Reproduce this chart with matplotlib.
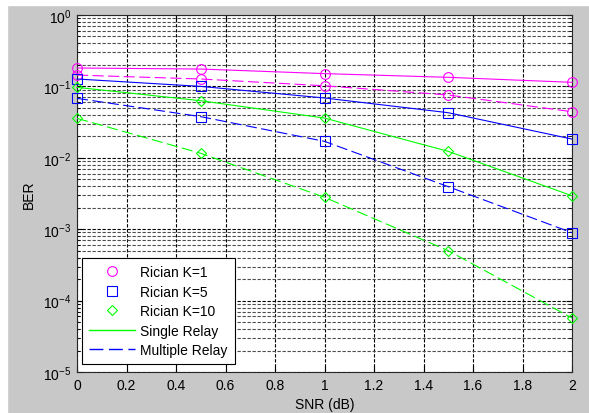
import matplotlib
matplotlib.use("Agg")
import matplotlib.pyplot as plt
from matplotlib.patches import Rectangle
from matplotlib.lines import Line2D

plt.rcParams['font.family'] = ['Liberation Sans', 'DejaVu Sans']
plt.rcParams['mathtext.fontset'] = 'custom'
plt.rcParams['mathtext.rm'] = 'Liberation Sans'
plt.rcParams['mathtext.it'] = 'Liberation Sans'

snr = [0, 0.5, 1, 1.5, 2]

# BER values
single_k1 = [0.181, 0.175, 0.151, 0.134, 0.114]
multi_k1 = [0.144, 0.127, 0.102, 0.0758, 0.0442]
single_k5 = [0.127, 0.100, 0.0688, 0.0428, 0.0183]
multi_k5 = [0.068, 0.0377, 0.0170, 0.00394, 0.000893]
single_k10 = [0.097, 0.063, 0.036, 0.0123, 0.00294]
multi_k10 = [0.0357, 0.01156, 0.0028, 0.0005, 5.7e-5]

legend_labels = ["Rician K=1", "Rician K=5", "Rician K=10", "Single Relay", "Multiple Relay"]

fig = plt.figure(figsize=(5.89, 4.14), dpi=100, facecolor='#c8c8c8')
# thin white strip on left and top edges
fig.patches.append(Rectangle((0, 0), 7 / 589, 1, transform=fig.transFigure, color='white', zorder=-1))
fig.patches.append(Rectangle((0, 1 - 6 / 414), 1, 6 / 414, transform=fig.transFigure, color='white', zorder=-1))

ax = fig.add_axes([77 / 589, 1 - 373 / 414, (572 - 77) / 589, (373 - 16) / 414])
ax.set_facecolor('white')

dash = (0, (10, 4))
ms = 7
series = [
    (single_k1, 'magenta', 'o', '-'),
    (multi_k1, 'magenta', 'o', dash),
    (single_k5, 'blue', 's', '-'),
    (multi_k5, 'blue', 's', dash),
    (single_k10, '#00ff00', 'D', '-'),
    (multi_k10, '#00ff00', 'D', dash),
]
for vals, c, m, ls in series:
    ax.semilogy(snr, vals, color=c, linestyle=ls, linewidth=0.8, marker=m,
                markersize=ms if m != 'D' else 5.5, markerfacecolor='none',
                markeredgecolor=c, markeredgewidth=0.8, clip_on=False, zorder=3)

ax.set_xlim(0, 2)
ax.set_ylim(1e-5, 1)
ax.set_xticks([0, 0.2, 0.4, 0.6, 0.8, 1, 1.2, 1.4, 1.6, 1.8, 2])
ax.set_xticklabels(['0', '0.2', '0.4', '0.6', '0.8', '1', '1.2', '1.4', '1.6', '1.8', '2'])

ax.grid(True, which='major', color='black', linestyle=(0, (3, 1.5)), linewidth=0.8)
ax.grid(True, which='minor', axis='y', color='0.3', linestyle=(0, (3, 1.5)), linewidth=0.8)
ax.set_axisbelow(True)

ax.tick_params(which='both', direction='in', top=True, right=True, labelsize=10, pad=4)
ax.tick_params(which='major', length=4)
ax.tick_params(which='minor', length=2)
for s in ax.spines.values():
    s.set_linewidth(0.8)
    s.set_color('0.15')

ax.set_xlabel('SNR (dB)', fontsize=10, labelpad=4)
ax.set_ylabel('BER', fontsize=10, labelpad=5)

handles = [
    Line2D([], [], linestyle='none', marker='o', markersize=ms, markerfacecolor='none', markeredgecolor='magenta', markeredgewidth=0.8),
    Line2D([], [], linestyle='none', marker='s', markersize=ms, markerfacecolor='none', markeredgecolor='blue', markeredgewidth=0.8),
    Line2D([], [], linestyle='none', marker='D', markersize=5.5, markerfacecolor='none', markeredgecolor='#00ff00', markeredgewidth=0.8),
    Line2D([], [], color='#00ff00', linestyle='-', linewidth=1),
    Line2D([], [], color='blue', linestyle=dash, linewidth=1),
]
leg = ax.legend(handles, legend_labels, loc='lower left', bbox_to_anchor=(0.01, 0.022),
                fontsize=10, fancybox=False, edgecolor='black', framealpha=1,
                handlelength=3.3, labelspacing=0.4, borderpad=0.5, handletextpad=0.4,
                borderaxespad=0)
leg.get_frame().set_linewidth(0.8)

fig.savefig('out.png', dpi=100, facecolor=fig.get_facecolor())
